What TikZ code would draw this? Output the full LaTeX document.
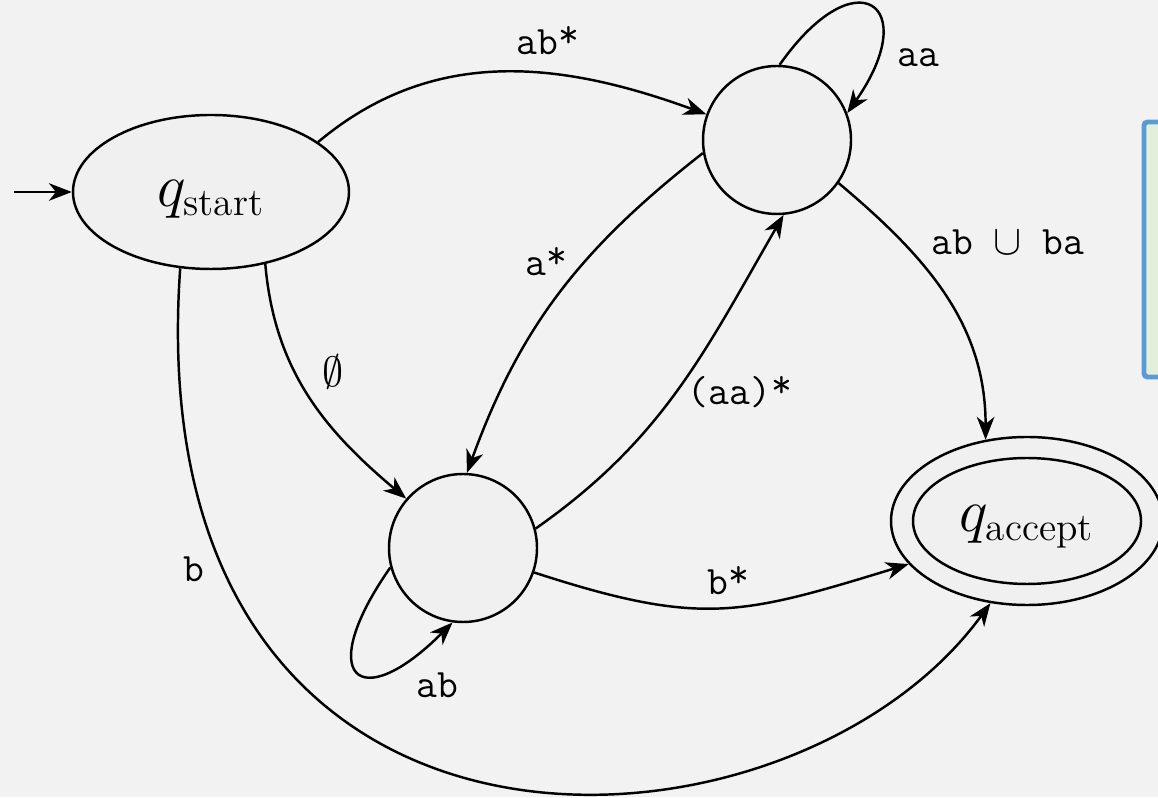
\documentclass[tikz,border=0pt]{standalone}
\usepackage{fontspec}
\usetikzlibrary{arrows.meta,shapes.geometric}
\definecolor{bggray}{HTML}{F2F2F2}
\definecolor{nodegray}{HTML}{F0F0F0}
\definecolor{notegreen}{HTML}{E2EFDA}
\definecolor{noteblue}{HTML}{5B9BD5}
\newcommand{\kstar}{\raisebox{2pt}{*}}
\tikzset{
  roundstate/.style={circle, draw, line width=0.7pt, fill=nodegray, minimum size=1.48cm, inner sep=0pt},
  bigstate/.style={ellipse, draw, line width=0.7pt, fill=nodegray, inner sep=0pt},
  trans/.style={line width=0.7pt, -{Stealth[length=6.5pt,width=5pt,inset=2pt]}},
  lbl/.style={font=\fontsize{11.5}{13}\selectfont\ttfamily, inner sep=0pt},
  statetext/.style={font=\fontsize{16}{19}\selectfont, text depth=0pt},
}

\begin{document}
\begin{tikzpicture}
	%%%%% START %%%%%
	
	\useasboundingbox (0, 0) rectangle (11.58, 7.97);
	\fill[bggray] (0, 0) rectangle (11.58, 7.97);
	
	\draw[line width=1.4pt, color=noteblue, fill=notegreen, rounded corners=1pt] (11.44, 6.75) rectangle (11.80, 4.20);
	
	\node[bigstate, minimum width=2.76cm, minimum height=1.54cm, statetext, text height=8pt] (start) at (2.11, 6.05) {$q_{\mathrm{start}}$};
	\node[roundstate] (top) at (7.77, 6.57) {};
	\node[roundstate] (bot) at (4.63, 2.49) {};
	\node[bigstate, minimum width=2.72cm, minimum height=1.68cm] (accept) at (10.27, 2.76) {};
	\node[bigstate, minimum width=2.28cm, minimum height=1.26cm, statetext, text height=5.7pt] (acceptin) at (accept) {$q_{\mathrm{accept}}$};
	
	\coordinate (entry) at (0.14, 6.05);
	\draw[trans] (entry) -- (start.west);
	
	\draw[trans] (start.25) to[out=40, in=160] (top.160);
	\draw[trans] (top.88) to[out=55, in=55, looseness=4.1] (top.21);
	\draw[trans] (top.190) to[out=218, in=70] (bot.87);
	\draw[trans] (bot.15) to[out=35, in=240] (top.275);
	\draw[trans] (start.-53) to[out=-85, in=140] (bot.139);
	\draw[trans] (bot.195) to[out=235, in=225, looseness=4.1] (bot.262);
	\draw[trans] (bot.-19) to[out=-18, in=197, looseness=1.2] (accept.200);
	\draw[trans] (top.-35) to[out=-40, in=90] (accept.117);
	\draw[trans] (start.248) to[out=266, in=234, out looseness=1.9, in looseness=1] (accept.246);
	
	\node[lbl] (lab-abs) at (5.48, 7.56) {ab\kstar};
	\node[lbl] (lab-aa) at (9.18, 7.39) {aa};
	\node[lbl] (lab-as) at (5.46, 5.35) {a\kstar};
	\node[lbl] (lab-aas) at (7.40, 4.05) {(aa)\kstar};
	\node[lbl] (lab-empty) at (3.33, 4.25) {$\emptyset$};
	\node[lbl] (lab-ab) at (4.37, 1.12) {ab};
	\node[lbl] (lab-bs) at (7.28, 2.16) {b\kstar};
	\node[lbl] (lab-union) at (10.08, 5.55) {ab $\cup$ ba};
	\node[lbl] (lab-b) at (1.94, 2.28) {b};
	
	%%%%% END %%%%%
\end{tikzpicture}
\end{document}
